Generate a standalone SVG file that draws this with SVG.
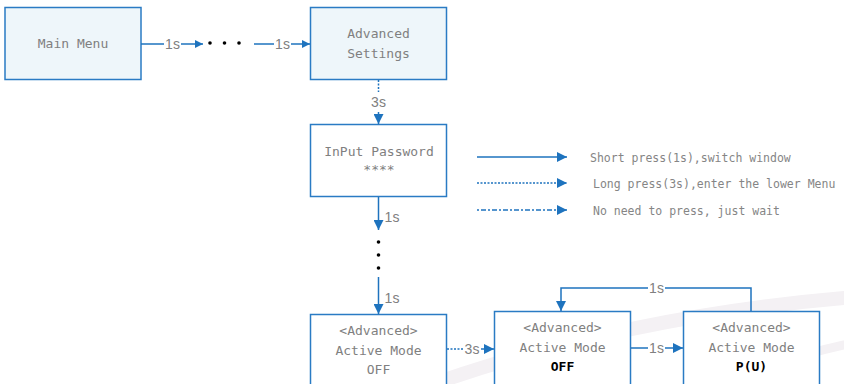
<svg xmlns="http://www.w3.org/2000/svg" width="844" height="384" viewBox="0 0 844 384">
<style>
.box{stroke:#2A7BC4;stroke-width:1.5}
.top{fill:#EEF6FA}
.wb{fill:#FFFFFF}
.t{font-family:"DejaVu Sans Mono","Liberation Mono",monospace;font-size:13px;fill:#808080;text-anchor:middle}
.b{font-family:"DejaVu Sans Mono","Liberation Mono",monospace;font-size:13px;font-weight:bold;fill:#000;text-anchor:middle}
.lg{font-family:"DejaVu Sans Mono","Liberation Mono",monospace;font-size:11.5px;fill:#858585}
.lb{font-family:"Liberation Sans",Arial,sans-serif;font-size:14px;fill:#808080;text-anchor:middle}
.c{stroke:#1E73BE;stroke-width:1.5;fill:none}
.dot{stroke-dasharray:2 1.5}
.dd{stroke-dasharray:2 2 5 2}
</style>
<defs>
<marker id="ah" viewBox="0 0 10 10" refX="10" refY="5" markerWidth="8" markerHeight="8" markerUnits="userSpaceOnUse" orient="auto">
<path d="M0,0 L10,5 L0,10 Z" fill="#1E73BE"/>
</marker>
<marker id="ahl" viewBox="0 0 10 10" refX="10" refY="5" markerWidth="10" markerHeight="10" markerUnits="userSpaceOnUse" orient="auto">
<path d="M0,0 L10,5 L0,10 Z" fill="#1E73BE"/>
</marker>
</defs>
<g id="watermark" fill="none" stroke="#F4F1F4" stroke-linecap="round">
<path d="M405,394 Q610,318 844,298" stroke-width="14"/>
<path d="M700,394 Q775,360 844,345" stroke-width="9"/>
</g>
<g id="n-main"><rect class="box top" x="5" y="7.5" width="136" height="72"/><text class="t" x="73" y="48">Main Menu</text></g>
<g id="n-adv"><rect class="box top" x="310.5" y="7.5" width="136" height="72"/><text class="t" x="378.5" y="38">Advanced</text><text class="t" x="378.5" y="58">Settings</text></g>
<g id="n-pwd"><rect class="box wb" x="310.5" y="124.5" width="136" height="72"/><text class="t" x="379" y="156">InPut Password</text><text class="t" x="379" y="174">****</text></g>
<g id="n-am1"><rect class="box wb" x="310.5" y="314.5" width="136" height="75"/><text class="t" x="378.5" y="335">&lt;Advanced&gt;</text><text class="t" x="378.5" y="355">Active Mode</text><text class="t" x="378.5" y="374">OFF</text></g>
<g id="n-am2"><rect class="box wb" x="494.5" y="311.5" width="136" height="78"/><text class="t" x="562.5" y="332">&lt;Advanced&gt;</text><text class="t" x="562.5" y="352">Active Mode</text><text class="b" x="562.5" y="371">OFF</text></g>
<g id="n-am3"><rect class="box wb" x="683.5" y="311.5" width="136" height="78"/><text class="t" x="751.5" y="332">&lt;Advanced&gt;</text><text class="t" x="751.5" y="352">Active Mode</text><text class="b" x="751.5" y="371">P(U)</text></g>
<g id="connectors">
<line class="c" x1="141" y1="44" x2="164" y2="44"/>
<line class="c" x1="181" y1="44" x2="203" y2="44" marker-end="url(#ah)"/>
<text class="lb" x="172.5" y="49">1s</text>
<circle cx="210" cy="43" r="1.8" fill="#000"/><circle cx="224.5" cy="43" r="1.8" fill="#000"/><circle cx="239" cy="43" r="1.8" fill="#000"/>
<line class="c" x1="254" y1="44" x2="274" y2="44"/>
<line class="c" x1="291" y1="44" x2="310" y2="44" marker-end="url(#ah)"/>
<text class="lb" x="282.5" y="49">1s</text>
<line class="c dot" x1="378.5" y1="80" x2="378.5" y2="92"/>
<text class="lb" x="378.5" y="107">3s</text>
<line class="c" x1="378.5" y1="112" x2="378.5" y2="124" marker-end="url(#ahl)"/>
<line class="c" x1="378.5" y1="197" x2="378.5" y2="230" marker-end="url(#ahl)"/>
<text class="lb" x="392" y="222">1s</text>
<circle cx="378.5" cy="242" r="1.8" fill="#000"/><circle cx="378.5" cy="255" r="1.8" fill="#000"/><circle cx="378.5" cy="268" r="1.8" fill="#000"/>
<line class="c" x1="378.5" y1="277" x2="378.5" y2="314" marker-end="url(#ahl)"/>
<text class="lb" x="392" y="303">1s</text>
<line class="c dot" x1="447" y1="349" x2="464" y2="349"/>
<text class="lb" x="472" y="354">3s</text>
<line class="c" x1="481" y1="349" x2="494" y2="349" marker-end="url(#ahl)"/>
<line class="c" x1="631" y1="348" x2="648" y2="348"/>
<text class="lb" x="656.5" y="353">1s</text>
<line class="c" x1="665" y1="348" x2="683" y2="348" marker-end="url(#ahl)"/>
<polyline class="c" points="751,311 751,288 665,288"/>
<text class="lb" x="656.5" y="293">1s</text>
<polyline class="c" points="648,288 561,288 561,311" marker-end="url(#ahl)"/>
</g>
<g id="legend">
<line class="c" x1="477" y1="157" x2="567" y2="157" marker-end="url(#ahl)"/>
<text class="lg" x="590" y="162">Short press(1s),switch window</text>
<line class="c dot" x1="477" y1="183" x2="567" y2="183" marker-end="url(#ahl)"/>
<text class="lg" x="593" y="188">Long press(3s),enter the lower Menu</text>
<line class="c dd" x1="477" y1="210" x2="567" y2="210" marker-end="url(#ahl)"/>
<text class="lg" x="593" y="215">No need to press, just wait</text>
</g>
</svg>
